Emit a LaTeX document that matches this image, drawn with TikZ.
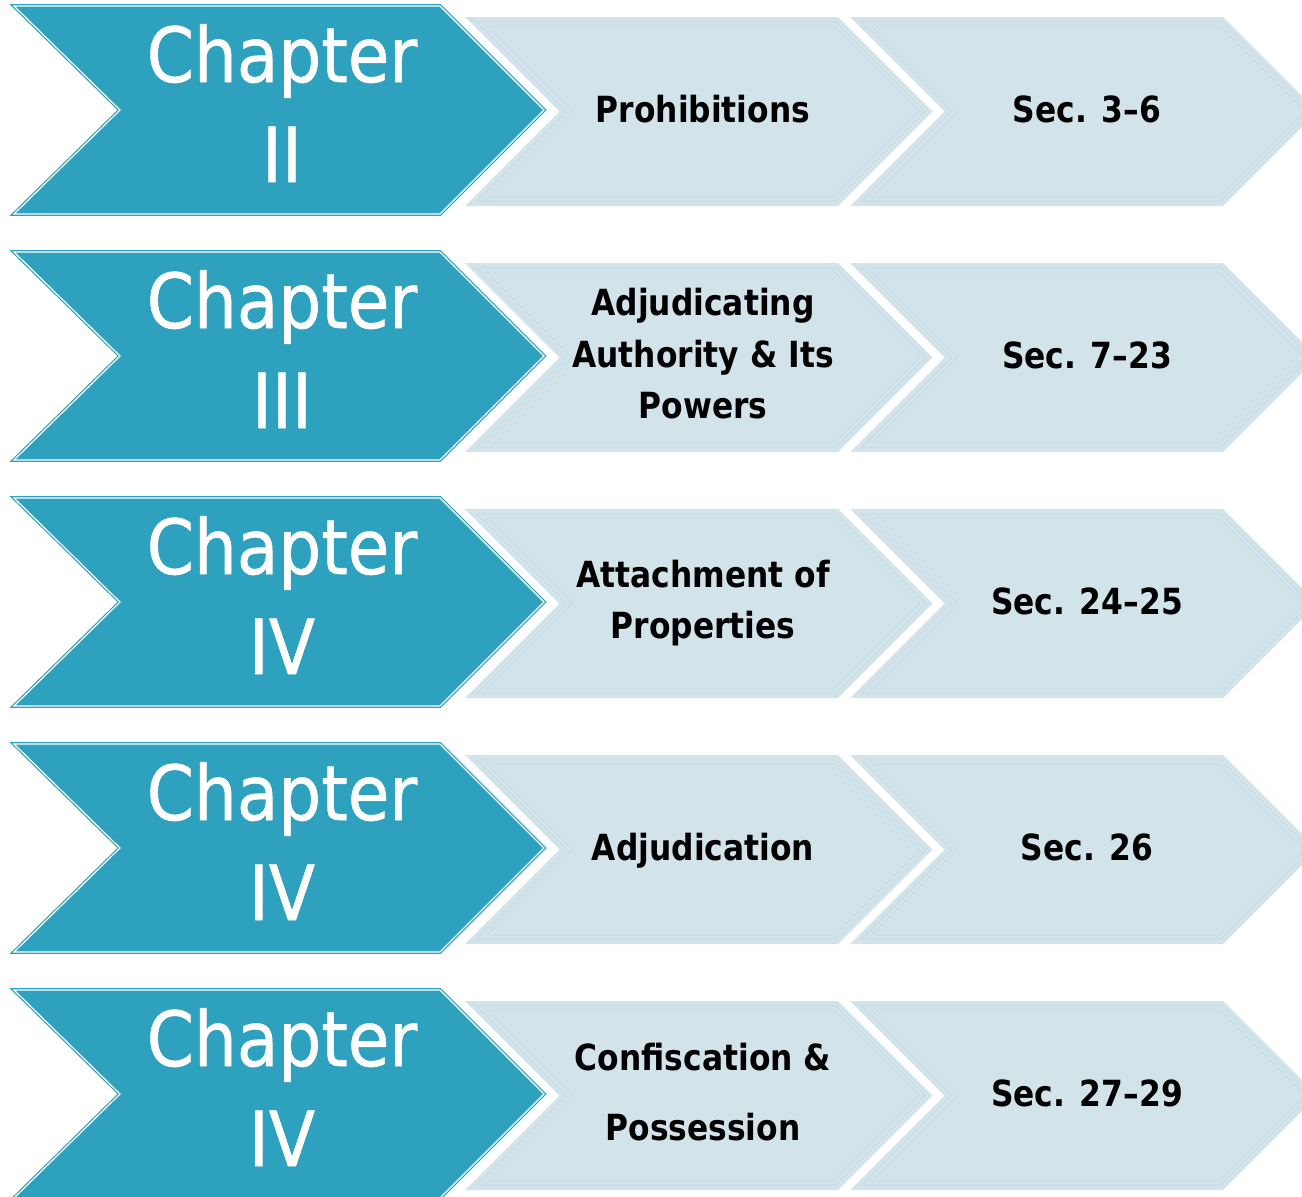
\documentclass[tikz,border=0pt]{standalone}
\usepackage{fontspec}
\setmainfont{DejaVu Sans}
\newfontfamily\chapfont[FakeStretch=0.89, FakeBold=0.8]{DejaVu Sans}
\newfontfamily\labfont[FakeStretch=0.87]{DejaVu Sans}
\definecolor{chapteal}{RGB}{45,161,190}
\definecolor{lightfill}{RGB}{210,227,234}
\definecolor{faint}{RGB}{198,219,228}
\tikzset{
  darkchev/.style={fill=chapteal, draw=chapteal, line width=1.2pt, double=white, double distance=1.2pt, line join=miter},
  lightchev/.style={fill=lightfill, draw=none},
  faintline/.style={draw=faint, line width=0.9pt, line join=miter},
  chaptxt/.style={text=white, font=\chapfont\fontsize{76}{100}\selectfont, anchor=base, inner sep=0pt},
  labtxt/.style={text=black, font=\labfont\bfseries\fontsize{36}{51}\selectfont, anchor=base, inner sep=0pt},
}
% light chevron: #1 = left x, #2 = row top
\newcommand\lightchevron[2]{%
  \fill[lightchev] ({#1},{#2+12}) -- ({#1+373},{#2+12}) -- ({#1+467.5},{#2+106.5}) -- ({#1+373},{#2+201}) -- ({#1},{#2+201}) -- ({#1+94.5},{#2+106.5}) -- cycle;
  \foreach \ins in {5,9}{%
    \draw[faintline] ({#1+2.414*\ins},{#2+12+\ins}) -- ({#1+373-0.414*\ins},{#2+12+\ins}) -- ({#1+467.5-1.414*\ins},{#2+106.5}) -- ({#1+373-0.414*\ins},{#2+201-\ins}) -- ({#1+2.414*\ins},{#2+201-\ins}) -- ({#1+94.5+1.414*\ins},{#2+106.5}) -- cycle;
  }%
}
% dark chevron: #1 = row top
\newcommand\darkchevron[1]{%
  \path[darkchev] (14,{#1+1}) -- (440,{#1+1}) -- (544,{#1+105}) -- (440,{#1+209}) -- (14,{#1+209}) -- (120,{#1+105}) -- cycle;
}
\begin{document}
\begin{tikzpicture}[x=1pt,y=-1pt]
\useasboundingbox (0,0) rectangle (1302,1197);
\clip (0,0) rectangle (1302,1197);
\foreach \t in {5,251,497,743,989}{%
  \lightchevron{850}{\t}
  \lightchevron{465}{\t}
  \darkchevron{\t}
}
% row 1
\node[chaptxt] (c1a) at (282,82) {Chapter};
\node[chaptxt] (c1b) at (282,182) {II};
\node[labtxt] (m1a) at (703,122) {Prohibitions};
\node[labtxt] (s1) at (1087,122) {Sec. 3–6};
% row 2
\node[chaptxt] (c2a) at (282,328) {Chapter};
\node[chaptxt] (c2b) at (282,428) {III};
\node[labtxt] (m2a) at (703,315) {Adjudicating};
\node[labtxt] (m2b) at (703,367) {Authority \& Its};
\node[labtxt] (m2c) at (703,418) {Powers};
\node[labtxt] (s2) at (1087,368) {Sec. 7–23};
% row 3
\node[chaptxt] (c3a) at (282,574) {Chapter};
\node[chaptxt] (c3b) at (282,674) {IV};
\node[labtxt] (m3a) at (703,587) {Attachment of};
\node[labtxt] (m3b) at (703,638) {Properties};
\node[labtxt] (s3) at (1087,614) {Sec. 24–25};
% row 4
\node[chaptxt] (c4a) at (282,820) {Chapter};
\node[chaptxt] (c4b) at (282,920) {IV};
\node[labtxt] (m4a) at (703,860) {Adjudication};
\node[labtxt] (s4) at (1087,860) {Sec. 26};
% row 5
\node[chaptxt] (c5a) at (282,1066) {Chapter};
\node[chaptxt] (c5b) at (282,1166) {IV};
\node[labtxt] (m5a) at (703,1070) {Confiscation \&};
\node[labtxt] (m5b) at (703,1140) {Possession};
\node[labtxt] (s5) at (1087,1106) {Sec. 27–29};
\end{tikzpicture}
\end{document}
